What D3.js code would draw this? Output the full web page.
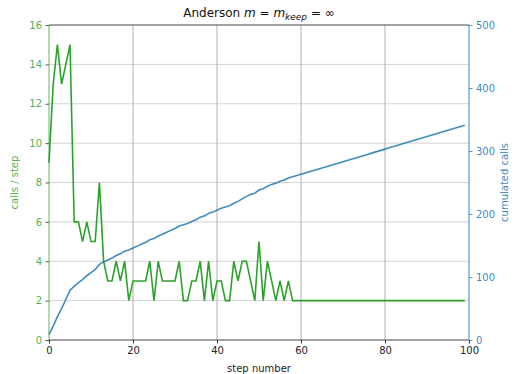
<!DOCTYPE html>
<html>
<head>
<meta charset="utf-8">
<script src="https://cdn.jsdelivr.net/npm/d3@7"></script>
<style>
  body { margin: 0; background: #fff; }
  text { font-family: "DejaVu Sans", sans-serif; }
</style>
</head>
<body>
<div id="chart"></div>
<script>
// calls per step (left axis)
var steps = d3.range(0, 100)
var callsPerStep = [9, 13, 15, 13, 14, 15, 6, 6, 5, 6, 5, 5, 8, 4, 3, 3, 4, 3, 4, 2,
    3, 3, 3, 3, 4, 2, 4, 3, 3, 3, 3, 4, 2, 2, 3, 3, 4, 2, 4, 2,
    3, 3, 2, 2, 4, 3, 4, 4, 3, 2, 5, 2, 4, 3, 2, 3, 2, 3, 2, 2,
    2, 2, 2, 2, 2, 2, 2, 2, 2, 2, 2, 2, 2, 2, 2, 2, 2, 2, 2, 2,
    2, 2, 2, 2, 2, 2, 2, 2, 2, 2, 2, 2, 2, 2, 2, 2, 2, 2, 2, 2]
// cumulated calls (right axis)
var cumulatedCalls = [9, 22, 37, 50, 64, 79, 85, 91, 96, 102, 107, 112, 120, 124, 127, 130, 134, 137, 141, 143,
    146, 149, 152, 155, 159, 161, 165, 168, 171, 174, 177, 181, 183, 185, 188, 191, 195, 197, 201, 203,
    206, 209, 211, 213, 217, 220, 224, 228, 231, 233, 238, 240, 244, 247, 249, 252, 254, 257, 259, 261,
    263, 265, 267, 269, 271, 273, 275, 277, 279, 281, 283, 285, 287, 289, 291, 293, 295, 297, 299, 301,
    303, 305, 307, 309, 311, 313, 315, 317, 319, 321, 323, 325, 327, 329, 331, 333, 335, 337, 339, 341]
var xTicks = [0, 20, 40, 60, 80, 100]
var leftTicks = [0, 2, 4, 6, 8, 10, 12, 14, 16]
var rightTicks = [0, 100, 200, 300, 400, 500]

var green = '#2ca02c', blue = '#1f77b4'
var W = 516, H = 374
var m = {left: 49, right: 47, top: 25, bottom: 34}
var w = W - m.left - m.right, h = H - m.top - m.bottom

var svg = d3.select('#chart')
    .append('svg')
    .attr('width', W)
    .attr('height', H)

var g = svg.append('g')
    .attr('transform', `translate(${m.left},${m.top})`)

var x = d3.scaleLinear().domain([0, 100]).range([0, w])
var yL = d3.scaleLinear().domain([0, 16]).range([h, 0])
var yR = d3.scaleLinear().domain([0, 500]).range([h, 0])

// grid
g.selectAll('.hgrid')
    .data(leftTicks.slice(1, -1))
    .enter()
    .append('line')
    .attr('x1', 0).attr('x2', w)
    .attr('y1', d => yL(d)).attr('y2', d => yL(d))
    .attr('stroke', '#d3d3d3')
    .attr('stroke-width', 1)
g.selectAll('.vgrid')
    .data(xTicks.slice(1, -1))
    .enter()
    .append('line')
    .attr('x1', d => x(d)).attr('x2', d => x(d))
    .attr('y1', 0).attr('y2', h)
    .attr('stroke', '#b0b0b0')
    .attr('stroke-width', 1)

// lines
var greenLine = d3.line().x((d, i) => x(steps[i])).y(d => yL(d))
var blueLine = d3.line().x((d, i) => x(steps[i])).y(d => yR(d))

g.append('path')
    .attr('d', greenLine(callsPerStep))
    .attr('fill', 'none')
    .attr('stroke', green)
    .attr('stroke-width', 1.6)
    .attr('stroke-linejoin', 'miter')

g.append('path')
    .attr('d', blueLine(cumulatedCalls))
    .attr('fill', 'none')
    .attr('stroke', blue)
    .attr('stroke-opacity', 0.85)
    .attr('stroke-width', 1.6)

// axes
var xAxis = g.append('g')
    .attr('transform', `translate(0,${h})`)
    .call(d3.axisBottom(x).tickValues(xTicks).tickSize(3.5).tickPadding(3.5))
xAxis.select('.domain').remove()
xAxis.selectAll('line').attr('stroke', '#333')
xAxis.selectAll('text').attr('font-size', 10).attr('fill', '#222')
    .style('font-family', '"DejaVu Sans", sans-serif')

var lAxis = g.append('g')
    .call(d3.axisLeft(yL).tickValues(leftTicks).tickSize(3.5).tickPadding(3.5))
lAxis.select('.domain').remove()
lAxis.selectAll('line').attr('stroke', '#555')
lAxis.selectAll('text').attr('font-size', 10).attr('fill', green).attr('fill-opacity', 0.85)
    .style('font-family', '"DejaVu Sans", sans-serif')

var rAxis = g.append('g')
    .attr('transform', `translate(${w},0)`)
    .call(d3.axisRight(yR).tickValues(rightTicks).tickSize(3.5).tickPadding(3.5))
rAxis.select('.domain').remove()
rAxis.selectAll('line').attr('stroke', blue).attr('stroke-opacity', 0.7)
rAxis.selectAll('text').attr('font-size', 10).attr('fill', blue).attr('fill-opacity', 0.9)
    .style('font-family', '"DejaVu Sans", sans-serif')

// spines
g.append('line').attr('x1', 0).attr('x2', w).attr('y1', 0).attr('y2', 0)
    .attr('stroke', '#444').attr('stroke-width', 1)
g.append('line').attr('x1', 0).attr('x2', w).attr('y1', h).attr('y2', h)
    .attr('stroke', '#444').attr('stroke-width', 1)
g.append('line').attr('x1', 0).attr('x2', 0).attr('y1', 0).attr('y2', h)
    .attr('stroke', green).attr('stroke-opacity', 0.5).attr('stroke-width', 1.5)
g.append('line').attr('x1', w).attr('x2', w).attr('y1', 0).attr('y2', h)
    .attr('stroke', blue).attr('stroke-opacity', 0.6).attr('stroke-width', 1.5)

// labels
var title = svg.append('text')
    .attr('x', m.left + w / 2)
    .attr('y', 17)
    .attr('text-anchor', 'middle')
    .attr('font-size', 12)
    .attr('fill', '#111')
title.append('tspan').text('Anderson ')
title.append('tspan').attr('font-style', 'italic').text('m')
title.append('tspan').text(' = ')
title.append('tspan').attr('font-style', 'italic').text('m')
title.append('tspan').attr('font-style', 'italic').attr('font-size', 9).attr('dy', 2.5).text('keep')
title.append('tspan').attr('dy', -2.5).text(' = ∞')

svg.append('text')
    .attr('x', m.left + w / 2)
    .attr('y', 372)
    .attr('text-anchor', 'middle')
    .attr('font-size', 10)
    .attr('fill', '#222')
    .text('step number')

svg.append('text')
    .attr('transform', `translate(18,${m.top + h / 2}) rotate(-90)`)
    .attr('text-anchor', 'middle')
    .attr('font-size', 10)
    .attr('fill', green)
    .attr('fill-opacity', 0.85)
    .text('calls / step')

svg.append('text')
    .attr('transform', `translate(508,${m.top + h / 2}) rotate(-90)`)
    .attr('text-anchor', 'middle')
    .attr('font-size', 10)
    .attr('fill', blue)
    .attr('fill-opacity', 0.9)
    .text('cumulated calls')
</script>
</body>
</html>
